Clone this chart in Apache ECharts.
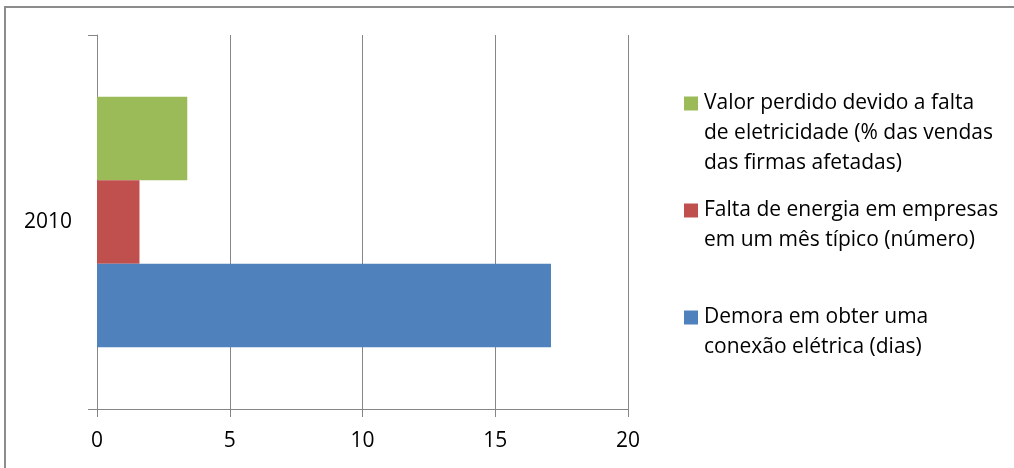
<!DOCTYPE html>
<html>
<head>
<meta charset="utf-8">
<script src="https://cdn.jsdelivr.net/npm/echarts@6/dist/echarts.min.js"></script>
<style>
  html, body { margin: 0; padding: 0; background: #fff; }
  #chart { width: 1014px; height: 468px; }
</style>
</head>
<body>
<div id="chart"></div>
<script>
// categories and values
const categories = ["2010"];
const demoraValues = [17.1];
const faltaValues = [1.6];
const valorValues = [3.4];

const xTicks = { min: 0, max: 20, interval: 5 };

// series names, with the line breaks used in the legend
const demoraName = "Demora em obter uma conexão elétrica (dias)";
const faltaName = "Falta de energia em empresas em um mês típico (número)";
const valorName = "Valor perdido devido a falta de eletricidade (% das vendas das firmas afetadas)";

const demoraLines = ["Demora em obter uma", "conexão elétrica (dias)"];
const faltaLines = ["Falta de energia em empresas", "em um mês típico (número)"];
const valorLines = ["Valor perdido devido a falta", "de eletricidade (% das vendas", "das firmas afetadas)"];

const COLORS = { demora: "#4F81BD", falta: "#C0504D", valor: "#9BBB59" };
const FONT = "Open Sans";
const GRAY = "#868686";

// legend entry: coloured box on the first line, the rest indented
function legendFor(name, lines, color, top) {
  return {
    data: [name],
    orient: "vertical",
    left: 673,
    top: top,
    icon: "none",
    itemWidth: 1,
    itemHeight: 1,
    selectedMode: false,
    formatter: function () {
      return lines
        .map((l, i) => (i === 0 ? "{box|}{sp|}" : "{ind|}") + "{t|" + l + "}")
        .join("\n");
    },
    textStyle: {
      rich: {
        box: { width: 14, height: 14, backgroundColor: color },
        sp: { width: 6 },
        ind: { width: 20 },
        t: { fontFamily: FONT, fontSize: 21, color: "#000", lineHeight: 30 },
      },
    },
  };
}

const chart = echarts.init(document.getElementById("chart"));
const option = {
  animation: false,
  backgroundColor: "#fff",
  graphic: [
    {
      type: "rect",
      shape: { x: 5, y: 7, width: 1100, height: 500 },
      style: { fill: "none", stroke: "#8c8c8c", lineWidth: 2 },
      silent: true,
    },
  ],
  grid: { left: 97, right: 386, top: 35, bottom: 59, containLabel: false },
  legend: [
    legendFor(valorName, valorLines, COLORS.valor, 88),
    legendFor(faltaName, faltaLines, COLORS.falta, 195),
    legendFor(demoraName, demoraLines, COLORS.demora, 302),
  ],
  xAxis: {
    type: "value",
    min: xTicks.min,
    max: xTicks.max,
    interval: xTicks.interval,
    axisLine: { show: true, lineStyle: { color: GRAY, width: 1 } },
    axisTick: { show: true, length: 8, lineStyle: { color: GRAY } },
    splitLine: { show: true, lineStyle: { color: GRAY, width: 1 } },
    axisLabel: { fontFamily: FONT, fontSize: 21, color: "#000", margin: 22 },
  },
  yAxis: {
    type: "category",
    data: categories,
    axisLine: { show: true, lineStyle: { color: GRAY, width: 1 } },
    axisTick: { show: true, length: 9, lineStyle: { color: GRAY } },
    axisLabel: { fontFamily: FONT, fontSize: 21, color: "#000", margin: 25 },
  },
  // first series sits at the top of the band
  series: [
    {
      name: valorName,
      type: "bar",
      data: valorValues,
      itemStyle: { color: COLORS.valor },
      barGap: 0,
      barCategoryGap: "33%",
    },
    {
      name: faltaName,
      type: "bar",
      data: faltaValues,
      itemStyle: { color: COLORS.falta },
    },
    {
      name: demoraName,
      type: "bar",
      data: demoraValues,
      itemStyle: { color: COLORS.demora },
    },
  ],
};

chart.setOption(option);
</script>
</body>
</html>
